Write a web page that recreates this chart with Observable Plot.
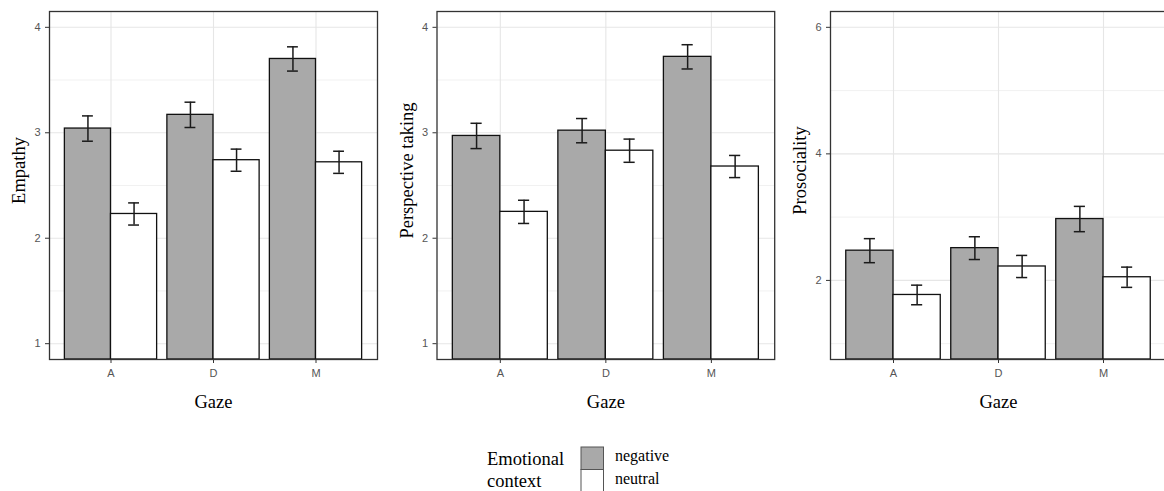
<!DOCTYPE html>
<html><head><meta charset="utf-8">
<script src="https://cdn.jsdelivr.net/npm/d3@7"></script>
<script src="https://cdn.jsdelivr.net/npm/@observablehq/plot@0.6"></script>
<style>
html,body{margin:0;padding:0;background:#fff;}
#wrap{position:relative;width:1164px;height:491px;overflow:hidden;background:#fff;}
#wrap > svg{position:absolute;top:0;}
</style></head><body><div id="wrap"></div>
<script>
// ---- data ----
const gaze = ["A", "D", "M"];
const contexts = ["negative", "neutral"];
const contextFill = ["#a9a9a9", "#ffffff"];
const legendTitle = ["Emotional", "context"];
const xLabel = "Gaze";

const empathyNeg = [3.04, 3.17, 3.70];
const empathyNeu = [2.23, 2.74, 2.72];
const empathyNegSe = [0.12, 0.12, 0.115];
const empathyNeuSe = [0.105, 0.105, 0.105];

const perspNeg = [2.97, 3.02, 3.72];
const perspNeu = [2.25, 2.83, 2.68];
const perspNegSe = [0.12, 0.115, 0.115];
const perspNeuSe = [0.11, 0.11, 0.105];

const prosNeg = [2.47, 2.51, 2.97];
const prosNeu = [1.77, 2.22, 2.05];
const prosNegSe = [0.19, 0.18, 0.20];
const prosNeuSe = [0.155, 0.175, 0.16];

const ticks14 = [1, 2, 3, 4];
const minor14 = [1.5, 2.5, 3.5];
const ticks26 = [2, 4, 6];
const minor26 = [1, 3, 5];

const serif = "'Liberation Serif','Times New Roman',Times,serif";
const sans = "'Liberation Sans',Arial,Helvetica,sans-serif";
const wrap = document.getElementById("wrap");

function panel({label, neg, neu, negSe, neuSe, yDomain, yTicks, yMinor, left, width, marginLeft, marginRight}) {
  const rows = [];
  gaze.forEach((g, i) => {
    rows.push({g, i: i + 1, ctx: contexts[0], mean: neg[i], se: negSe[i], off: -0.225});
    rows.push({g, i: i + 1, ctx: contexts[1], mean: neu[i], se: neuSe[i], off: 0.225});
  });
  const half = 0.225, cap = 0.053;
  const xc = d => d.i + d.off;
  const el = Plot.plot({
    width, height: 420, marginLeft, marginRight, marginTop: 11, marginBottom: 61,
    style: {fontFamily: sans, fontSize: "11px", background: "transparent", overflow: "visible"},
    x: {domain: [0.4, 3.6]},
    y: {domain: yDomain},
    color: {domain: contexts, range: contextFill},
    marks: [
      Plot.ruleY(yMinor, {stroke: "#eeeeee", strokeWidth: 0.8}),
      Plot.ruleY(yTicks, {stroke: "#e6e6e6", strokeWidth: 1.1}),
      Plot.ruleX([1, 2, 3], {stroke: "#e6e6e6", strokeWidth: 1.1}),
      Plot.rect(rows, {x1: d => xc(d) - half, x2: d => xc(d) + half, y1: () => yDomain[0], y2: "mean",
        fill: "ctx", stroke: "#111", strokeWidth: 1.3}),
      Plot.ruleX(rows, {x: xc, y1: d => d.mean - d.se, y2: d => d.mean + d.se, stroke: "#1a1a1a", strokeWidth: 1.5}),
      Plot.ruleY(rows, {y: d => d.mean + d.se, x1: d => xc(d) - cap, x2: d => xc(d) + cap, stroke: "#1a1a1a", strokeWidth: 1.5}),
      Plot.ruleY(rows, {y: d => d.mean - d.se, x1: d => xc(d) - cap, x2: d => xc(d) + cap, stroke: "#1a1a1a", strokeWidth: 1.5}),
      Plot.frame({stroke: "#333", strokeWidth: 1.3}),
      Plot.axisY(yTicks, {tickSize: 4, tickPadding: 5, stroke: "#333", fill: "#555", label: null, fontSize: 11,
        tickFormat: d => String(d)}),
      Plot.axisX([1, 2, 3], {tickSize: 4, tickPadding: 6, stroke: "#333", fill: "#555", label: null,
        tickFormat: d => gaze[d - 1], fontSize: 11}),
      Plot.text([label], {frameAnchor: "left", textAnchor: "middle", dx: -30, dy: -15, rotate: -90,
        fontFamily: serif, fontSize: 18.5, fill: "#000"}),
      Plot.text([xLabel], {frameAnchor: "bottom", textAnchor: "middle", lineAnchor: "bottom", dy: 48,
        fontFamily: serif, fontSize: 18.5, fill: "#000"})
    ]
  });
  el.style.left = left + "px";
  wrap.appendChild(el);
}

panel({label: "Empathy", neg: empathyNeg, neu: empathyNeu, negSe: empathyNegSe, neuSe: empathyNeuSe,
  yDomain: [0.85, 4.15], yTicks: ticks14, yMinor: minor14, left: 0, width: 385, marginLeft: 49, marginRight: 8});
panel({label: "Perspective taking", neg: perspNeg, neu: perspNeu, negSe: perspNegSe, neuSe: perspNeuSe,
  yDomain: [0.85, 4.15], yTicks: ticks14, yMinor: minor14, left: 385, width: 395, marginLeft: 51.5, marginRight: 5.8});
panel({label: "Prosociality", neg: prosNeg, neu: prosNeu, negSe: prosNegSe, neuSe: prosNeuSe,
  yDomain: [0.75, 6.25], yTicks: ticks26, yMinor: minor26, left: 780, width: 390, marginLeft: 50, marginRight: 4});

// ---- legend ----
const lg = d3.select(wrap).append("svg")
  .attr("width", 300).attr("height", 60)
  .style("left", "470px").style("top", "431px");
legendTitle.forEach((t, i) => {
  lg.append("text").attr("x", 17).attr("y", 34 + i * 21.5)
    .attr("font-family", serif).attr("font-size", 18.5).attr("fill", "#000").text(t);
});
contexts.forEach((c, i) => {
  lg.append("rect").attr("x", 111).attr("y", 16 + i * 22.5).attr("width", 22.5).attr("height", 22.5)
    .attr("fill", contextFill[i]).attr("stroke", "#555").attr("stroke-width", 1);
  lg.append("text").attr("x", 145).attr("y", 29.5 + i * 23.5)
    .attr("font-family", serif).attr("font-size", 16).attr("fill", "#000").text(c);
});
</script></body></html>
